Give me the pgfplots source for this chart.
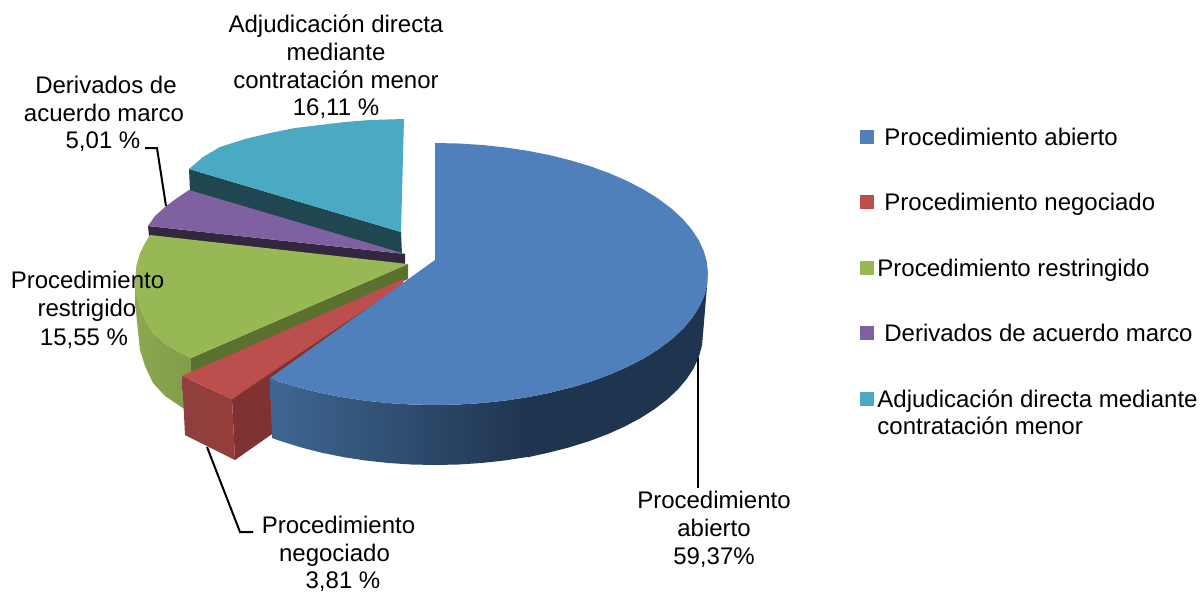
\documentclass[border=0pt]{standalone}
\usepackage{pgfplots}
\pgfplotsset{compat=1.18}
\usepackage{fontspec}
\setmainfont{Liberation Sans}
\definecolor{bluetop}{HTML}{4F80BB}
\definecolor{blueL}{HTML}{3F6793}
\definecolor{blueD}{HTML}{1F344E}
\definecolor{redtop}{HTML}{BC4F4D}
\definecolor{redface}{HTML}{9A4644}
\definecolor{redwall}{HTML}{7F3231}
\definecolor{greentop}{HTML}{98B855}
\definecolor{greenwall}{HTML}{5C702F}
\definecolor{greenL}{HTML}{8CA850}
\definecolor{greenR}{HTML}{829C49}
\definecolor{purtop}{HTML}{7F60A0}
\definecolor{purwall}{HTML}{33263F}
\definecolor{tealtop}{HTML}{4AA9C3}
\definecolor{tealwall}{HTML}{1F4651}
\tikzset{lbl/.style={font=\fontsize{12}{14}\selectfont,text=black,inner sep=0pt,anchor=base},
  lgd/.style={font=\fontsize{12}{14}\selectfont,text=black,inner sep=0pt,anchor=base west}}
\begin{document}
\begin{tikzpicture}
\useasboundingbox (0,0) rectangle (600pt,295.5pt);
\begin{axis}[
  at={(0,0)},anchor=south west,
  width=600pt,height=295.5pt,scale only axis,
  xmin=0,xmax=1200,ymin=0,ymax=591,y dir=reverse,
  hide axis,clip=false,
]
% teal
\addplot[fill=tealwall,draw=none] coordinates {(189,169)(401,232)(402,254)(190,191)};
\addplot[fill=tealtop,draw=none] coordinates {(189,169)(203,157)(220,147)(245,139)(270,133)(295,128)(320,125)(345,122)(370,120)(404,119)(401,232)};
% purple
\addplot[fill=purwall,draw=none] coordinates {(148,226)(405,254)(405,265)(149,236)};
\addplot[fill=purtop,draw=none] coordinates {(148,226)(155,216)(165,207)(177,198)(189,190)(402,253)(405,254)};
% green
\addplot[left color=greenL,right color=greenR,draw=none] coordinates {(135,278)(136,293)(140,307)(146,321)(153,333)(164,343)(177,351)(191,358)(191,371)(186,410)(165,396)(153,383)(145,366)(140,350)(137,322)(135,300)};
\addplot[fill=greenwall,draw=none] coordinates {(191,358)(408,264)(408,279)(191,373)};
\addplot[fill=greentop,draw=none] coordinates {(150,235)(145,243)(140,253)(136.5,265)(135,280)(136,293)(140,307)(146,321)(153,333)(164,343)(177,351)(191,358)(408,264)};
% red
\addplot[fill=redwall,draw=none] coordinates {(232,399)(403,279)(403,288)(275,378)(275,432)(235,460)};
\addplot[left color=redface!92!black,right color=redface!105!white,draw=none] coordinates {(182,376)(232,399)(235,460)(185,435)};
\addplot[fill=redtop,draw=none] coordinates {(182,376)(403,279)(403,284)(232,399)};
% blue side
\addplot[left color=blueL,right color=blueD,draw=none] coordinates {(270,378)(278.4,381.3)(298.5,387.4)(319.6,392.7)(341.6,397.1)(364.3,400.5)(387.6,403)(411.2,404.5)(435,405)(458.8,404.5)(482.4,403)(505.7,400.5)(528.4,397.1)(530,397)(530,457)(526.7,457.1)(504.4,460.5)(481.5,463)(458.4,464.5)(435,465)(411.6,464.5)(388.5,463)(365.6,460.5)(343.3,457.1)(321.7,452.7)(301,447.4)(281.3,441.3)(272,438)};
\addplot[fill=blueD,draw=none] coordinates {(708,274)(707,285.4)(703.9,296.7)(698.7,307.9)(691.5,318.8)(682.4,329.4)(671.4,339.5)(658.6,349.1)(644.1,358.2)(628,366.6)(610.5,374.3)(591.6,381.3)(571.5,387.4)(550.4,392.7)(528.4,397.1)(528,457.2)(548.3,452.7)(569,447.4)(588.7,441.3)(607.3,434.3)(624.5,426.6)(640.3,418.2)(654.5,409.1)(667.1,399.5)(677.9,389.4)(686.8,378.8)(693.9,367.9)(698.9,356.7)(702,345.4)(703,334)};
% blue top
\addplot[fill=bluetop,draw=none] coordinates {(435,143)(458.8,143.5)(482.4,145)(505.7,147.5)(528.4,150.9)(550.4,155.3)(571.5,160.6)(591.6,166.7)(610.5,173.7)(628,181.4)(644.1,189.8)(658.6,198.9)(671.4,208.5)(682.4,218.6)(691.5,229.2)(698.7,240.1)(703.9,251.3)(707,262.6)(708,274)(707,285.4)(703.9,296.7)(698.7,307.9)(691.5,318.8)(682.4,329.4)(671.4,339.5)(658.6,349.1)(644.1,358.2)(628,366.6)(610.5,374.3)(591.6,381.3)(571.5,387.4)(550.4,392.7)(528.4,397.1)(505.7,400.5)(482.4,403)(458.8,404.5)(435,405)(411.2,404.5)(387.6,403)(364.3,400.5)(341.6,397.1)(319.6,392.7)(298.5,387.4)(278.4,381.3)(270,378)(435,260)};
% leader lines
\addplot[black,line width=1pt] coordinates {(697.5,358)(697.5,488)};
\addplot[black,line width=1pt] coordinates {(207,447)(240,532)(253,532)};
\addplot[black,line width=1pt] coordinates {(166,206)(157,148)(145,148)};
% legend keys
\addplot[only marks,mark=square*,mark size=3.25pt,mark options={draw=bluetop,line width=0pt,fill=bluetop}] coordinates {(866.5,137)};
\addplot[only marks,mark=square*,mark size=3.25pt,mark options={draw=redtop,line width=0pt,fill=redtop}] coordinates {(866.5,202)};
\addplot[only marks,mark=square*,mark size=3.25pt,mark options={draw=greentop,line width=0pt,fill=greentop}] coordinates {(866.5,268)};
\addplot[only marks,mark=square*,mark size=3.25pt,mark options={draw=purtop,line width=0pt,fill=purtop}] coordinates {(866.5,333)};
\addplot[only marks,mark=square*,mark size=3.25pt,mark options={draw=tealtop,line width=0pt,fill=tealtop}] coordinates {(866.5,399)};
% legend text
\node[lgd] at (axis cs:884,145) {Procedimiento abierto};
\node[lgd] at (axis cs:884,210) {Procedimiento negociado};
\node[lgd] at (axis cs:877,276) {Procedimiento restringido};
\node[lgd] at (axis cs:884,341) {Derivados de acuerdo marco};
\node[lgd] at (axis cs:877,407) {Adjudicación directa mediante};
\node[lgd] at (axis cs:877,434) {contratación menor};
% data labels
\node[lbl] at (axis cs:336,32) {Adjudicación directa};
\node[lbl] at (axis cs:336,60) {mediante};
\node[lbl] at (axis cs:336,88) {contratación menor};
\node[lbl] at (axis cs:336,115) {16,11 \%};
\node[lbl] at (axis cs:106,93) {Derivados de};
\node[lbl] at (axis cs:104,121) {acuerdo marco};
\node[lbl] at (axis cs:103,148) {5,01 \%};
\node[lbl] at (axis cs:87.5,288) {Procedimiento};
\node[lbl] at (axis cs:87,316) {restrigido};
\node[lbl] at (axis cs:84,345) {15,55 \%};
\node[lbl] at (axis cs:338.5,533) {Procedimiento};
\node[lbl] at (axis cs:334.5,561) {negociado};
\node[lbl] at (axis cs:343,588) {3,81 \%};
\node[lbl] at (axis cs:714,508) {Procedimiento};
\node[lbl] at (axis cs:714,536) {abierto};
\node[lbl] at (axis cs:714,564) {59,37\%};
\end{axis}
\end{tikzpicture}
\end{document}
